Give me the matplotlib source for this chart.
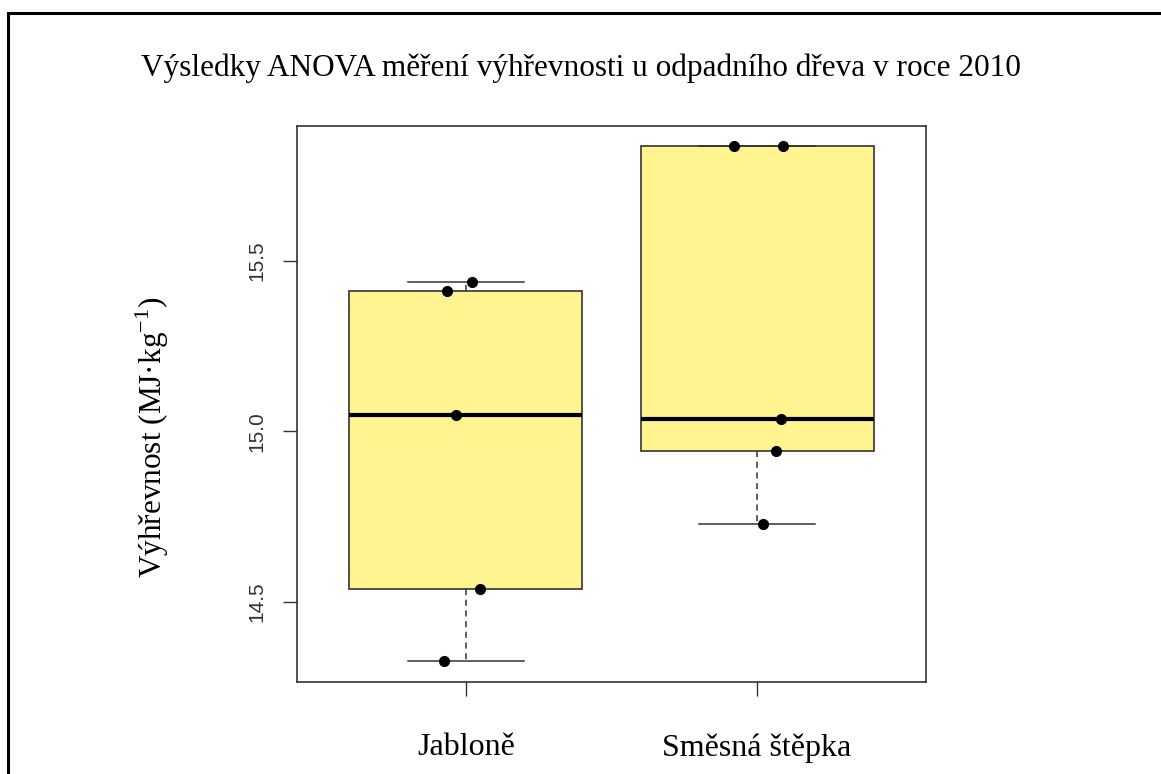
import numpy as np
import matplotlib.pyplot as plt
from matplotlib.patches import Rectangle

# data
groups = ["Jabloně", "Směsná štěpka"]
jablone = [14.326, 14.538, 15.047, 15.412, 15.439]
smesna = [14.73, 14.944, 15.038, 15.836, 15.836]
# horizontal jitter of the points
jablone_x = [0.924, 1.049, 0.966, 0.935, 1.021]
smesna_x = [2.021, 2.064, 2.081, 1.922, 2.09]
yticks = [14.5, 15.0, 15.5]

title = "Výsledky ANOVA měření výhřevnosti u odpadního dřeva v roce 2010"
ylab = "Výhřevnost (MJ·kg$^{-1}$)"

serif = ["Liberation Serif", "DejaVu Serif"]
sans = ["Liberation Sans", "DejaVu Sans"]
plt.rcParams['mathtext.fontset'] = 'custom'
plt.rcParams['mathtext.rm'] = 'Liberation Serif'

fig = plt.figure(figsize=(11.61, 7.74), dpi=100)
ax = fig.add_axes([0.2558, 0.1192, 0.5418, 0.718])

edge = "#333333"
bp = ax.boxplot([jablone, smesna], positions=[1, 2], widths=0.8,
                patch_artist=True, whis=(0, 100), showfliers=False,
                boxprops=dict(facecolor="#FFF48F", edgecolor=edge, linewidth=1.2),
                medianprops=dict(color="black", linewidth=3),
                whiskerprops=dict(color=edge, linestyle=(0, (4, 3)), linewidth=1.1),
                capprops=dict(color=edge, linewidth=1.1),
                capwidths=0.4)

ax.plot(jablone_x, jablone, "o", color="black", markersize=7, zorder=5)
ax.plot(smesna_x, smesna, "o", color="black", markersize=7, zorder=5)

ax.set_xlim(0.42, 2.58)
ax.set_ylim(14.266, 15.896)
ax.set_xticks([1, 2])
ax.set_xticklabels(groups, family=serif, fontsize=23)
ax.set_yticks(yticks)
ax.set_yticklabels(["%.1f" % v for v in yticks], family=sans, fontsize=15,
                   rotation=90, va="center", color="#333333")
ax.tick_params(axis="both", length=10, width=1, color=edge)
ax.tick_params(axis="x", pad=27)
ax.tick_params(axis="y", pad=12)
for s in ax.spines.values():
    s.set_color(edge)
    s.set_linewidth(1.2)

ax.set_ylabel(ylab, family=serif, fontsize=22.5)
ax.yaxis.set_label_coords(-0.200, 0.44)

fig.text(0.5, 1 - 68 / 774, title, ha="center", va="center",
         family=serif, fontsize=22.5)

# outer frame, running off the right and bottom edges
fig.patches.append(Rectangle((8 / 1161, -0.05), 1.2, 1 - 13 / 774 + 0.05,
                             transform=fig.transFigure, fill=False,
                             edgecolor="black", linewidth=2.2, clip_on=False))

fig.savefig("out.png", dpi=100)
